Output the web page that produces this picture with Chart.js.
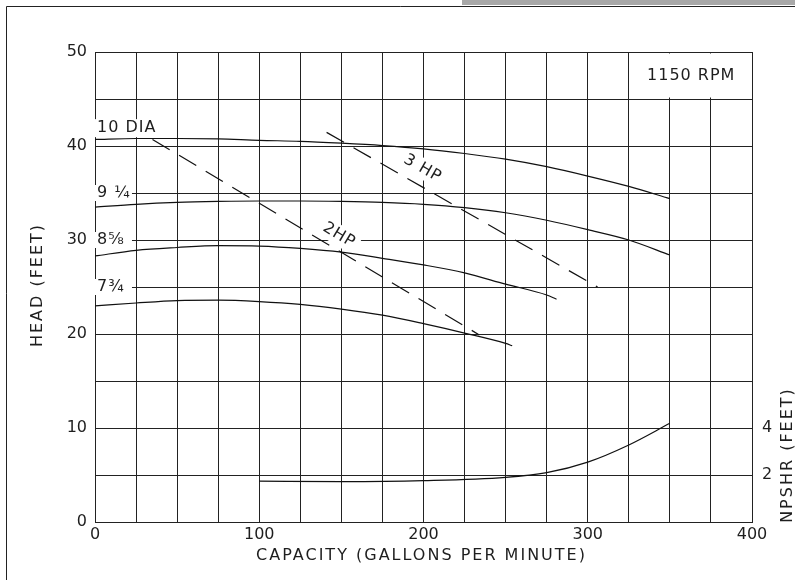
<!DOCTYPE html>
<html><head><meta charset="utf-8">
<script src="https://cdn.jsdelivr.net/npm/chart.js@4.4.1/dist/chart.umd.min.js"></script>
<style>html,body{margin:0;padding:0;background:#fff;overflow:hidden}</style>
</head><body>
<canvas id="c" width="795" height="580"></canvas>
<script>
// ---- data ----
const capacityGpm = [0,25,50,75,100,125,150,175,200,225,250,275,300,325,350];
const head10Dia   = [40.7,40.8,40.8,40.75,40.6,40.5,40.3,40.05,39.7,39.2,38.6,37.8,36.8,35.7,34.4];
const head9q      = [33.5,33.8,34.0,34.1,34.15,34.15,34.1,34.0,33.8,33.45,32.9,32.1,31.1,30.0,28.4];
const capacity8   = [0,25,50,75,100,125,150,175,200,225,250,275,281];
const head8f      = [28.3,28.9,29.2,29.4,29.35,29.1,28.7,28.05,27.35,26.5,25.3,24.15,23.7];
const capacity7   = [0,25,50,75,100,125,150,175,200,225,250,254];
const head7t      = [23.0,23.3,23.55,23.6,23.45,23.15,22.65,22.0,21.1,20.1,19.0,18.75];
const hp2Gpm  = [35,234];
const hp2Head = [40.7,19.9];
const hp3Gpm  = [141,306];
const hp3Head = [41.45,25.0];
const npshrGpm  = [100,150,200,250,275,300,325,350];
const npshrFeet = [1.74,1.72,1.76,1.9,2.1,2.55,3.28,4.2];
const xTickLabels = [0,100,200,300,400];
const yTickLabels = [0,10,20,30,40,50];
const npshrTickLabels = [2,4];

const FONT = '"DejaVu Sans"';
const INK = '#1e1e1e';
const pts = (xs, ys) => xs.map((x, i) => ({x, y: ys[i]}));

const curveStyle = {borderColor:'#111', borderWidth:1.2, pointRadius:0, fill:false, cubicInterpolationMode:'monotone'};
const dashStyle  = {borderColor:'#111', borderWidth:1.2, pointRadius:0, fill:false, borderDash:[20,11]};

// text annotations anchored in data units
const labels = [
  {text:'10 DIA', gpm:1.2, head:41.9, align:'left', mask:[-2,-9,64,9]},
  {text:'9 ¼',   gpm:1.2, head:35,   align:'left', mask:[-2,-8,37,8]},
  {text:'8⅝',    gpm:1.2, head:30,   align:'left', mask:[-2,-8,37,8]},
  {text:'7¾',    gpm:1.2, head:25,   align:'left', mask:[-2,-8,37,8]},
  {text:'2HP',   gpm:148.6, head:30.5, align:'center', along:'hp2'},
  {text:'3 HP',  gpm:199.4, head:37.6, align:'center', along:'hp3'}
];

function setFont(ctx, spacing){
  ctx.font = '16px ' + FONT;
  try { ctx.letterSpacing = spacing; } catch(e) {}
}

const deco = {
  id:'deco',
  beforeDraw(chart){
    const ctx = chart.ctx;
    ctx.save();
    ctx.fillStyle = '#fff';
    ctx.fillRect(0,0,chart.width,chart.height);
    ctx.fillStyle = '#a8a8a8';
    ctx.fillRect(462,0,chart.width-462,5);
    ctx.strokeStyle = '#222';
    ctx.lineWidth = 1;
    ctx.beginPath();
    ctx.moveTo(6.5,chart.height); ctx.lineTo(6.5,6.5); ctx.lineTo(chart.width,6.5);
    ctx.stroke();
    ctx.restore();
  },
  angleOf(chart, key){
    const xs = chart.scales.x, ys = chart.scales.y;
    const g = key==='hp2'?hp2Gpm:hp3Gpm, h = key==='hp2'?hp2Head:hp3Head;
    return Math.atan2(ys.getPixelForValue(h[1])-ys.getPixelForValue(h[0]), xs.getPixelForValue(g[1])-xs.getPixelForValue(g[0]));
  },
  beforeDatasetsDraw(chart){
    const ctx = chart.ctx, xs = chart.scales.x, ys = chart.scales.y;
    ctx.save();
    ctx.fillStyle = '#fff';
    const bx0 = xs.getPixelForValue(325)+1.5, bx1 = xs.getPixelForValue(400)-1.5;
    const by0 = ys.getPixelForValue(50)+1.5, by1 = ys.getPixelForValue(45)-1.5;
    ctx.fillRect(bx0,by0,bx1-bx0,by1-by0);
    setFont(ctx,'1px');
    for (const l of labels){
      const px = xs.getPixelForValue(l.gpm), py = ys.getPixelForValue(l.head);
      if (l.along){
        const a = this.angleOf(chart,l.along);
        const w = ctx.measureText(l.text).width + 8;
        ctx.save(); ctx.translate(px,py); ctx.rotate(a);
        ctx.fillRect(-w/2,-10,w,20);
        ctx.restore();
      } else {
        const m = l.mask;
        ctx.fillRect(px+m[0], py+m[1], m[2], m[3]-m[1]);
      }
    }
    ctx.restore();
  },
  afterDatasetsDraw(chart){
    const ctx = chart.ctx, xs = chart.scales.x, ys = chart.scales.y, ca = chart.chartArea;
    ctx.save();
    ctx.fillStyle = INK;
    setFont(ctx,'1px');
    ctx.textBaseline = 'middle';
    for (const l of labels){
      const px = xs.getPixelForValue(l.gpm), py = ys.getPixelForValue(l.head);
      ctx.save(); ctx.translate(px,py);
      if (l.along) ctx.rotate(this.angleOf(chart,l.along));
      ctx.textAlign = l.align;
      ctx.fillText(l.text,0,0);
      ctx.restore();
    }
    ctx.textAlign = 'center';
    ctx.fillText('1150 RPM', xs.getPixelForValue(363), ys.getPixelForValue(47.45));
    setFont(ctx,'2px');
    ctx.fillText('CAPACITY (GALLONS PER MINUTE)', (ca.left+ca.right)/2 - 2, 556);
    ctx.save(); ctx.translate(38,(ca.top+ca.bottom)/2 - 2); ctx.rotate(-Math.PI/2);
    ctx.fillText('HEAD (FEET)',0,0); ctx.restore();
    ctx.save(); ctx.translate(788,455); ctx.rotate(-Math.PI/2);
    ctx.fillText('NPSHR (FEET)',0,0); ctx.restore();
    setFont(ctx,'0px');
    ctx.restore();
  }
};

new Chart(document.getElementById('c'), {
  type:'line',
  data:{datasets:[
    {...curveStyle, label:'10 DIA', data:pts(capacityGpm, head10Dia)},
    {...curveStyle, label:'9 1/4', data:pts(capacityGpm, head9q)},
    {...curveStyle, label:'8 5/8', data:pts(capacity8, head8f)},
    {...curveStyle, label:'7 3/4', data:pts(capacity7, head7t)},
    {...dashStyle, label:'2HP', data:pts(hp2Gpm, hp2Head)},
    {...dashStyle, label:'3HP', data:pts(hp3Gpm, hp3Head)},
    {...curveStyle, label:'NPSHR', yAxisID:'y2', data:pts(npshrGpm, npshrFeet)}
  ]},
  options:{
    responsive:false, animation:false, events:[],
    layout:{padding:{top:52,left:0,right:0,bottom:0}},
    plugins:{legend:{display:false}, tooltip:{enabled:false}},
    scales:{
      x:{type:'linear', min:0, max:400,
        ticks:{stepSize:25, autoSkip:false, maxRotation:0, padding:3, color:INK, font:{family:FONT,size:16},
          callback:v => xTickLabels.includes(v) ? String(v) : ''},
        grid:{color:'#222', lineWidth:1, drawTicks:false},
        border:{color:'#222', width:1},
        afterFit(s){ s.height = 58; }},
      y:{type:'linear', min:0, max:50,
        ticks:{stepSize:5, autoSkip:false, padding:8, color:INK, font:{family:FONT,size:16},
          callback:v => yTickLabels.includes(v) ? String(v) : ''},
        grid:{color:'#222', lineWidth:1, drawTicks:false},
        border:{color:'#222', width:1},
        afterFit(s){ s.width = 95; }},
      y2:{type:'linear', position:'right', min:0, max:20,
        afterBuildTicks(s){ s.ticks = npshrTickLabels.map(v => ({value:v})); },
        ticks:{padding:10, color:INK, font:{family:FONT,size:16}},
        grid:{display:false, drawTicks:false},
        border:{display:false},
        afterFit(s){ s.width = 43; }}
    }
  },
  plugins:[deco]
});
</script>
</body></html>
